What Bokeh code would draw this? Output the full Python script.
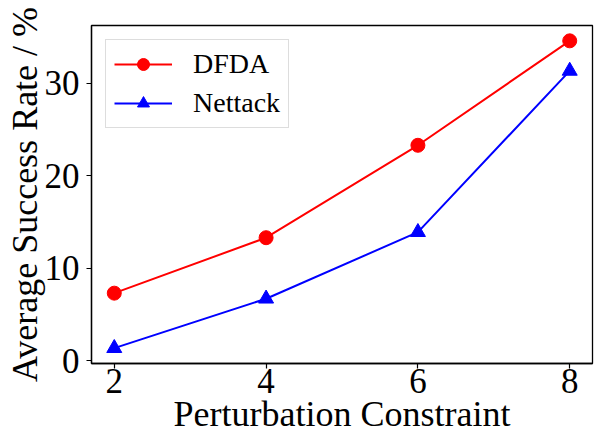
from bokeh.plotting import figure
from bokeh.models import Range1d, FixedTicker, Legend, LegendItem
from bokeh.embed import file_html
from bokeh.resources import INLINE

constraints = [2, 4, 6, 8]
dfda = [7.3, 13.3, 23.3, 34.6]
nettack = [1.35, 6.7, 13.9, 31.35]
x_ticks = [2, 4, 6, 8]
y_ticks = [0, 10, 20, 30]
x_label = "Perturbation Constraint"
y_label = "Average Success Rate / %"

FONT = "Liberation Serif"

xr = Range1d(1.7, 8.3)
yr = Range1d(-0.31, 36.26)
p = figure(width=600, height=444, output_backend="svg", toolbar_location=None,
           x_range=xr, y_range=yr,
           min_border_left=91, min_border_top=25, min_border_right=8, min_border_bottom=81)

p.xgrid.visible = False
p.ygrid.visible = False
p.outline_line_color = "black"
p.outline_line_width = 1.3
p.outline_line_alpha = 1.0

for ax in (p.xaxis[0], p.yaxis[0]):
    ax.axis_line_color = "black"
    ax.axis_line_width = 1.3
    ax.major_tick_out = 5
    ax.major_tick_in = 0
    ax.major_tick_line_width = 1.2
    ax.minor_tick_out = 0
    ax.minor_tick_in = 0
    ax.major_label_text_font = FONT
    ax.major_label_text_font_size = "35px"
    ax.major_label_text_color = "black"
    ax.axis_label_text_font = FONT
    ax.axis_label_text_font_size = "36px"
    ax.axis_label_text_font_style = "normal"
    ax.axis_label_text_color = "black"

p.xaxis.ticker = FixedTicker(ticks=x_ticks)
p.yaxis.ticker = FixedTicker(ticks=y_ticks)
p.xaxis.axis_label = x_label
p.yaxis.axis_label = y_label
p.xaxis.major_label_standoff = 0
p.xaxis.axis_label_standoff = -2
p.yaxis.major_label_standoff = 7
p.yaxis.axis_label_standoff = -3

l1 = p.line(constraints, dfda, line_color="#ff0000", line_width=2)
s1 = p.scatter(constraints, dfda, marker="circle", size=14, fill_color="#ff0000", line_color="#ff0000")
l2 = p.line(constraints, nettack, line_color="#0000ff", line_width=2)
s2 = p.scatter(constraints, nettack, marker="triangle", size=15, fill_color="#0000ff", line_color="#0000ff")

legend = Legend(items=[LegendItem(label="DFDA", renderers=[l1, s1]),
                       LegendItem(label="Nettack", renderers=[l2, s2])],
                location="top_left")
legend.margin = 14
legend.padding = 8
legend.spacing = 7
legend.glyph_width = 58
legend.glyph_height = 30
legend.label_standoff = 21
legend.label_text_font = FONT
legend.label_text_font_size = "28px"
legend.label_text_color = "black"
legend.border_line_color = "#bbbbbb"
legend.border_line_width = 1.2
legend.background_fill_color = "white"
legend.background_fill_alpha = 0.8
p.add_layout(legend)

open("out.html", "w").write(file_html(p, INLINE))
